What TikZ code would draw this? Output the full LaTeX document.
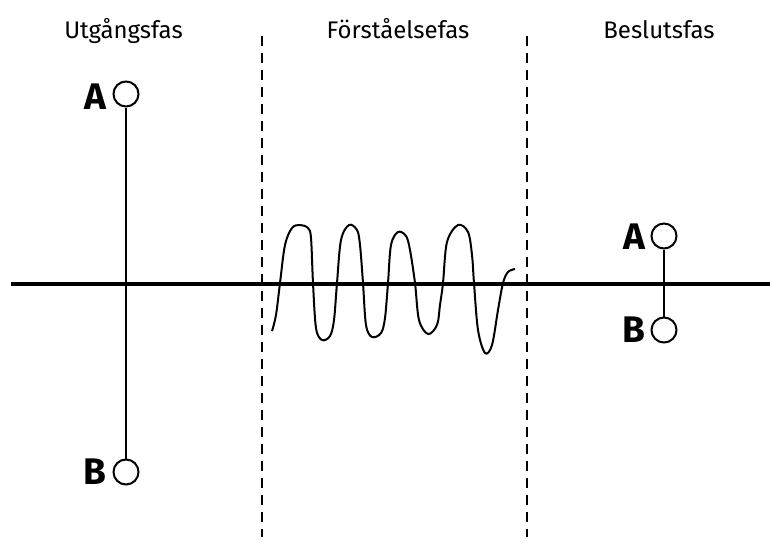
\documentclass[tikz,border=0pt]{standalone}
\usepackage{fontspec}
\setmainfont{Fira Sans}
\begin{document}
\begin{tikzpicture}[x=1pt,y=-1pt,
  pin/.style={circle,draw,line width=2pt,minimum size=25pt,inner sep=0pt,fill=white},
  letter/.style={inner sep=0pt,anchor=base east,font=\fontsize{37}{40}\selectfont\bfseries},
  phase/.style={inner sep=0pt,anchor=base,font=\fontsize{24}{28}\selectfont},
  sep/.style={line width=2pt,dash pattern=on 10pt off 7pt},
  axis/.style={line width=4pt},
  stick/.style={line width=2.2pt}]
\useasboundingbox (0,0) rectangle (770,543);
% phase labels
\node[phase] (p1) at (123.5,39) {Utgångsfas};
\node[phase] (p2) at (398,39) {Förståelsefas};
\node[phase] (p3) at (659,39) {Beslutsfas};
% separators
\coordinate (s1t) at (262,36); \coordinate (s1b) at (262,537);
\coordinate (s2t) at (527,36); \coordinate (s2b) at (527,537);
\draw[sep] (s1t) -- (s1b);
\draw[sep] (s2t) -- (s2b);
% axis
\coordinate (ax1) at (11,284); \coordinate (ax2) at (772,284);
\draw[axis] (ax1) -- (ax2);
% wave
\draw[line width=2pt] plot[smooth,tension=0.55] coordinates{
(272,331) (276,315) (280,283) (285,245) (292,228) (300,225) (308,228) (311,238)
(313,283) (316,328) (322,340) (330,336) (334,320) (337,283) (341,240) (349,225)
(357,230) (360,245) (363,283) (366,325) (372,337) (381,333) (385,318) (388,283)
(391,245) (398,232) (406,236) (410,250) (415,283) (419,320) (428,334) (437,325)
(440,305) (443,283) (447,242) (458,225) (468,232) (472,255) (474,283) (478,330)
(485,353) (492,345) (498,310) (503,283) (508,272) (515,269)};
% left pair
\node[pin] (A1) at (126,94) {};
\node[pin] (B1) at (126,472) {};
\draw[stick] (A1) -- (B1);
\node[letter] (la1) at (107,109.5) {A};
\node[letter] (lb1) at (107,484.5) {B};
% right pair
\node[pin] (A2) at (664,236) {};
\node[pin] (B2) at (664,330) {};
\draw[stick] (A2) -- (B2);
\node[letter] (la2) at (646,249.5) {A};
\node[letter] (lb2) at (646,342.5) {B};
\end{tikzpicture}
\end{document}
